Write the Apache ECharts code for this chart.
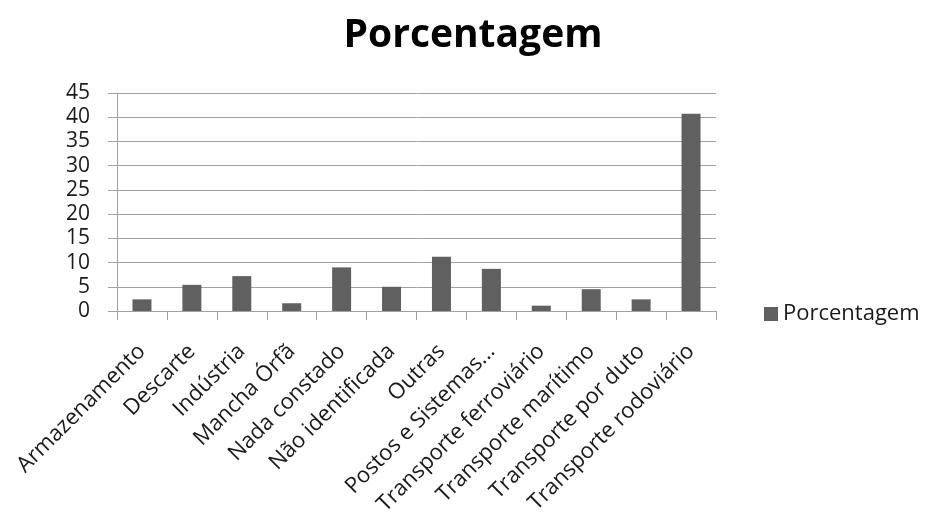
<!DOCTYPE html>
<html>
<head>
<meta charset="utf-8">
<script src="https://cdn.jsdelivr.net/npm/echarts@6/dist/echarts.min.js"></script>
<style>
  html, body { margin: 0; padding: 0; background: #fff; }
  #chart { width: 927px; height: 518px; }
</style>
</head>
<body>
<div id="chart"></div>
<script>
// Origem dos acidentes (%)
const categories = [
  'Armazenamento', 'Descarte', 'Indústria', 'Mancha Órfã', 'Nada constado',
  'Não identificada', 'Outras', 'Postos e Sistemas...', 'Transporte ferroviário',
  'Transporte marítimo', 'Transporte por duto', 'Transporte rodoviário'
];
const porcentagem = [2.4, 5.4, 7.2, 1.6, 9.0, 5.0, 11.2, 8.7, 1.1, 4.5, 2.4, 40.7];
const seriesName = 'Porcentagem';
const titleText = 'Porcentagem';

const FONT = '"Open Sans", sans-serif';
const chart = echarts.init(document.getElementById('chart'), null, { renderer: 'canvas' });

chart.setOption({
  backgroundColor: '#ffffff',
  animation: false,
  title: {
    text: titleText,
    left: 468,
    textAlign: 'center',
    top: 11,
    textStyle: { fontFamily: FONT, fontWeight: 'bold', fontSize: 39, color: '#000' }
  },
  legend: {
    data: [seriesName],
    left: 759,
    top: 298,
    icon: 'rect',
    itemWidth: 14,
    itemHeight: 14,
    itemGap: 6,
    textStyle: { fontFamily: FONT, fontSize: 22, color: '#1a1a1a' }
  },
  grid: { left: 117, right: 211, top: 93, bottom: 207, containLabel: false },
  xAxis: {
    type: 'category',
    data: categories,
    boundaryGap: true,
    axisLine: { lineStyle: { color: '#a0a0a0', width: 1 } },
    axisTick: { show: true, interval: 0, length: 9, alignWithLabel: false, lineStyle: { color: '#a0a0a0' } },
    axisLabel: {
      interval: 0,
      rotate: 45,
      margin: 37,
      fontFamily: FONT,
      fontSize: 22,
      color: '#1a1a1a'
    }
  },
  yAxis: {
    type: 'value',
    min: 0,
    max: 45,
    interval: 5,
    axisLine: { show: true, lineStyle: { color: '#a0a0a0', width: 1 } },
    axisTick: { show: true, length: 9, lineStyle: { color: '#a0a0a0' } },
    splitLine: { show: true, lineStyle: { color: '#a0a0a0', width: 1 } },
    axisLabel: { margin: 27, fontFamily: FONT, fontSize: 21, color: '#1a1a1a' }
  },
  series: [{
    name: seriesName,
    type: 'bar',
    data: porcentagem,
    barWidth: 19,
    itemStyle: { color: '#606060' }
  }]
});
</script>
</body>
</html>
